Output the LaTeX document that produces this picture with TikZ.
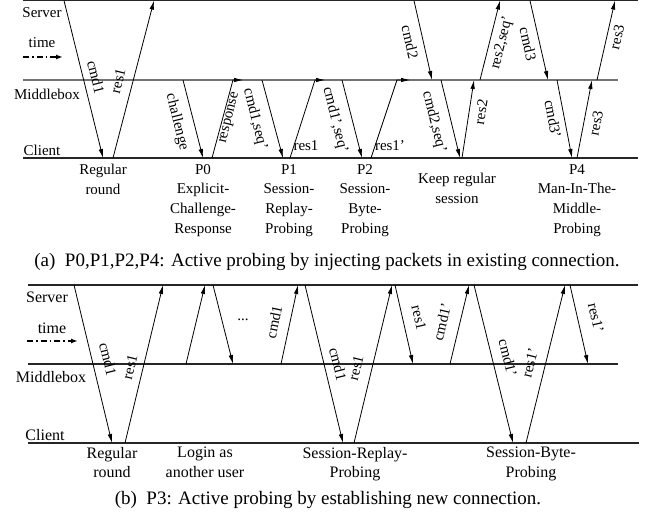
\documentclass[tikz,border=0pt]{standalone}
\usepackage{fontspec}
\setmainfont{Liberation Serif}
\usetikzlibrary{arrows.meta}
\tikzset{
  lane/.style={line width=1.2pt, draw=black!85},
  midlane/.style={line width=2pt, draw=black!55},
  midlaneb/.style={line width=1.1pt, draw=black!85},
  msg/.style={line width=0.8pt, -{Latex[length=9pt,width=4.5pt]}},
  timearrow/.style={line width=1.6pt, dash pattern=on 6pt off 3pt on 1.5pt off 3pt, -{Latex[length=7pt,width=5pt]}},
  lbl/.style={font=\fontsize{15}{19.7}\selectfont, inner sep=0pt},
  lblb/.style={font=\fontsize{16}{19.5}\selectfont, inner sep=0pt},
  blbl/.style={font=\fontsize{15}{19.7}\selectfont, inner sep=0pt, align=center, anchor=north},
  blblb/.style={font=\fontsize{16}{19.5}\selectfont, inner sep=0pt, align=center, anchor=north},
  rl/.style={font=\fontsize{15}{18}\selectfont, inner sep=0pt},
  captext/.style={font=\fontsize{19}{22}\selectfont, inner sep=0pt},
}
\newcommand\mymsg[3]{\coordinate (#1s) at (#2); \coordinate (#1e) at (#3); \draw[msg] (#1s) -- (#1e);}
\begin{document}
\begin{tikzpicture}[x=1pt,y=-1pt]
\useasboundingbox (0,0) rectangle (649,518);
% ---------------- panel (a) ----------------
\coordinate (aS1) at (23,0.6); \coordinate (aS2) at (638,0.6);
\coordinate (aM1) at (23,80); \coordinate (aM2) at (618,80);
\coordinate (aC1) at (23,158); \coordinate (aC2) at (638,158);
\draw[lane] (aS1) -- (aS2);
\draw[midlane] (aM1) -- (aM2);
\draw[lane] (aC1) -- (aC2);
\node[lbl] (aServer) at (42,13) {Server};
\node[lbl] (aTime) at (42,43) {time};
\coordinate (aT1) at (23,57); \coordinate (aT2) at (63,57);
\draw[timearrow] (aT1) -- (aT2);
\node[lbl] (aMid) at (47,94) {Middlebox};
\node[lbl] (aCli) at (42,150) {Client};

\mymsg{a1}{64,0.6}{103,158}
\mymsg{a2}{113,158}{154,0.6}
\node[rl, rotate=-76] (la1) at (96,77) {cmd1};
\node[rl, rotate=76] (la2) at (118,81) {res1};

\mymsg{a3}{183,80}{203,158}
\node[rl, rotate=-76] (la3) at (177,122) {challenge};
\coordinate (a4s) at (212,158); \coordinate (a4m) at (233,80); \coordinate (a4e) at (243,80);
\draw[msg] (a4s) -- (a4m) -- (a4e);
\node[rl, rotate=76] (la4) at (230,118) {response};

\mymsg{a5}{262,80}{283,158}
\node[rl, rotate=-76] (la5) at (255,119) {cmd1,seq'};
\coordinate (a6s) at (290,158); \coordinate (a6m) at (315,80); \coordinate (a6e) at (325,80);
\draw[msg] (a6s) -- (a6m) -- (a6e);
\node[rl] (la6) at (306,146) {res1};

\mymsg{a7}{342,80}{362,158}
\node[rl, rotate=-76] (la7) at (335,120) {cmd1',seq'};
\coordinate (a8s) at (371,158); \coordinate (a8m) at (397,80); \coordinate (a8e) at (410,80);
\draw[msg] (a8s) -- (a8m) -- (a8e);
\node[rl] (la8) at (390,146) {res1'};

\mymsg{a9}{414,0.6}{432,80}
\node[rl, rotate=-77] (la9) at (410,42) {cmd2};
\mymsg{a10}{441,80}{460,158}
\node[rl, rotate=-76] (la10) at (434,122) {cmd2,seq'};
\mymsg{a11}{462,158}{474,80}
\node[rl, rotate=81] (la11) at (481,112) {res2};
\mymsg{a12}{480,80}{500,0.6}
\node[rl, rotate=76] (la12) at (502,43) {res2,seq'};
\mymsg{a13}{530,0.6}{548,80}
\node[rl, rotate=-77] (la13) at (528,44) {cmd3};
\mymsg{a14}{557,80}{572,158}
\node[rl, rotate=-79] (la14) at (553,119) {cmd3'};
\mymsg{a15}{577,158}{592,80}
\node[rl, rotate=79] (la15) at (596,123) {res3};
\mymsg{a16}{597,80}{615,0.6}
\node[rl, rotate=77] (la16) at (617,37) {res3};

\node[blbl] (ba1) at (103,164) {Regular\\round};
\node[blbl] (ba2) at (203,164) {P0\\Explicit-\\Challenge-\\Response};
\node[blbl] (ba3) at (289,164) {P1\\Session-\\Replay-\\Probing};
\node[blbl] (ba4) at (365,164) {P2\\Session-\\Byte-\\Probing};
\node[blbl] (ba5) at (457,173) {Keep regular\\session};
\node[blbl] (ba6) at (577,164) {P4\\Man-In-The-\\Middle-\\Probing};

\node[captext] (capa) at (327,262) {(a)\ \ P0,P1,P2,P4: Active probing by injecting packets in existing connection.};

% ---------------- panel (b) ----------------
\coordinate (bS1) at (28,285); \coordinate (bS2) at (638,285);
\coordinate (bM1) at (28,364); \coordinate (bM2) at (618,364);
\coordinate (bC1) at (28,443); \coordinate (bC2) at (639,443);
\draw[lane] (bS1) -- (bS2);
\draw[midlaneb] (bM1) -- (bM2);
\draw[lane] (bC1) -- (bC2);
\node[lblb] (bServer) at (47,297) {Server};
\node[lblb] (bTime) at (52,328) {time};
\coordinate (bT1) at (27,341); \coordinate (bT2) at (78,341);
\draw[timearrow] (bT1) -- (bT2);
\node[lblb] (bMid) at (51,377) {Middlebox};
\node[lblb] (bCli) at (45,435) {Client};

\mymsg{b1}{74,285}{112,443}
\node[rl, rotate=-76] (lb1) at (108,359) {cmd1};
\mymsg{b2}{125,443}{163,285}
\node[rl, rotate=76] (lb2) at (130,367) {res1};

\mymsg{b3}{186,364}{205,285}
\mymsg{b4}{213,285}{233,364}
\node[rl] (lb34) at (243,320) {...};
\mymsg{b5}{281,364}{298,285}
\node[rl, rotate=78] (lb5) at (274,322) {cmd1};

\mymsg{b6}{305,285}{343,443}
\node[rl, rotate=-76] (lb6) at (338,364) {cmd1};
\mymsg{b7}{354,443}{392,285}
\node[rl, rotate=76] (lb7) at (356,368) {res1};
\mymsg{b8}{395,285}{413,364}
\node[rl, rotate=-77] (lb8) at (419,318) {res1};
\mymsg{b9}{450,364}{469,285}
\node[rl, rotate=77] (lb9) at (442,322) {cmd1'};
\mymsg{b10}{474,285}{513,443}
\node[rl, rotate=-76] (lb10) at (508,358) {cmd1'};
\mymsg{b11}{526,443}{565,285}
\node[rl, rotate=76] (lb11) at (530,363) {res1'};
\mymsg{b12}{570,285}{588,364}
\node[rl, rotate=-77] (lb12) at (596,318) {res1'};

\node[blblb] (bb1) at (112,447) {Regular\\round};
\node[blblb] (bb2) at (205,447) {Login as\\another user};
\node[blblb] (bb3) at (355,447) {Session-Replay-\\Probing};
\node[blblb] (bb4) at (531,447) {Session-Byte-\\Probing};

\node[captext] (capb) at (328,500) {(b)\ \ P3: Active probing by establishing new connection.};
\end{tikzpicture}
\end{document}
